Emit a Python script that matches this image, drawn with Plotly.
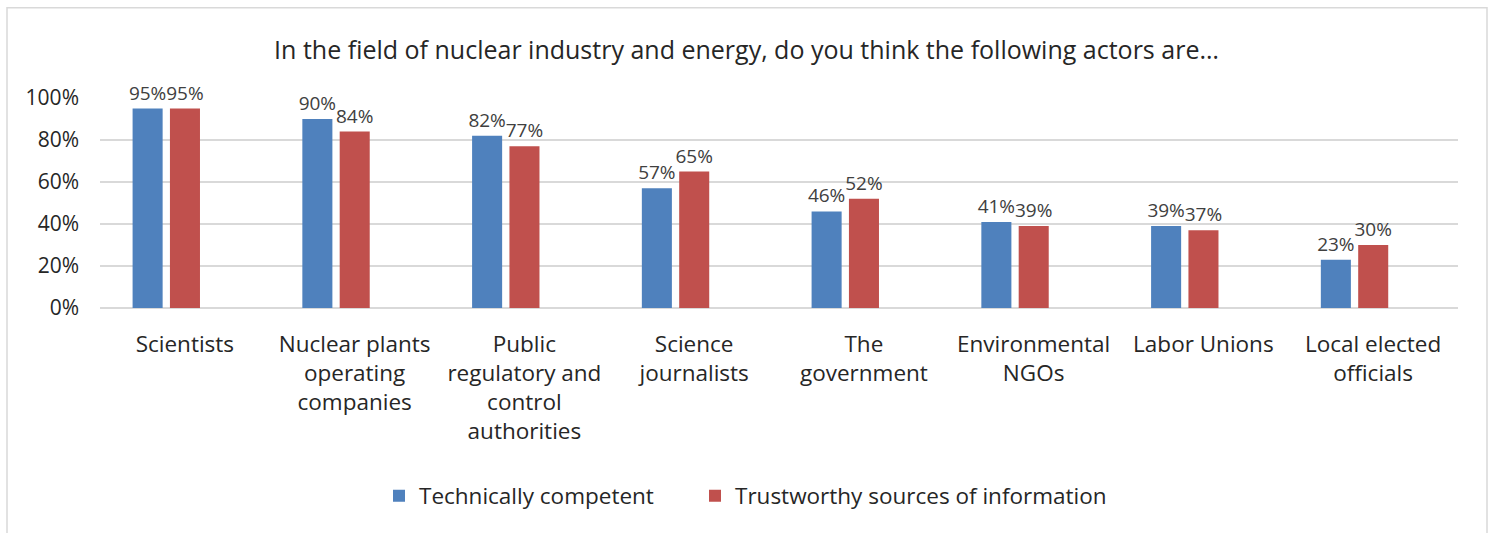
import plotly.graph_objects as go

categories = [
    "Scientists",
    "Nuclear plants<br>operating<br>companies",
    "Public<br>regulatory and<br>control<br>authorities",
    "Science<br>journalists",
    "The<br>government",
    "Environmental<br>NGOs",
    "Labor Unions",
    "Local elected<br>officials",
]
technically_competent = [0.95, 0.90, 0.82, 0.57, 0.46, 0.41, 0.39, 0.23]
trustworthy_sources = [0.95, 0.84, 0.77, 0.65, 0.52, 0.39, 0.37, 0.30]
series_names = ["Technically competent", "Trustworthy sources of information"]
title_text = "In the field of nuclear industry and energy, do you think the following actors are…"
y_ticks = [0, 0.2, 0.4, 0.6, 0.8, 1.0]
y_ticklabels = ["0%", "20%", "40%", "60%", "80%", "100%"]

FONT = "Open Sans"
TEXT = "#404040"
DARK = "#262626"
BLUE = "#4F81BD"
RED = "#C0504D"
GRID = "#D9D9D9"

W, H = 1493, 533
ML, MR, MT, MB = 100, 35, 97.5, 225
pw = W - ML - MR
ph = H - MT - MB

bar_w = 0.177
fig = go.Figure()
for vals, name, color, off, lg in [
    (technically_competent, series_names[0], BLUE, -0.308, "legend"),
    (trustworthy_sources, series_names[1], RED, -0.088, "legend2"),
]:
    fig.add_trace(go.Bar(
        x=list(range(len(categories))), y=vals, name=name,
        marker=dict(color=color, line=dict(width=0)),
        width=bar_w, offset=off, legend=lg,
        text=[f"{round(v*100)}%" for v in vals],
        textposition="outside", cliponaxis=False, constraintext="none",
        textfont=dict(family=FONT, size=19, color=TEXT),
    ))

# chart border
fig.add_shape(type="rect", xref="paper", yref="paper",
              x0=(7 - ML) / pw, x1=(1487 - ML) / pw,
              y0=-(H + 10 - (H - MB)) / ph, y1=((H - MB) - 7) / ph,
              line=dict(color=GRID, width=1.5), fillcolor="rgba(0,0,0,0)", layer="below")

legend_style = dict(orientation="h", xref="container", xanchor="left",
                    yref="container", y=1 - 496 / H, yanchor="middle",
                    font=dict(family=FONT, size=22.5, color=DARK), itemwidth=30)

fig.update_layout(
    width=W, height=H,
    margin=dict(l=ML, r=MR, t=MT, b=MB, autoexpand=False),
    paper_bgcolor="white", plot_bgcolor="white",
    font=dict(family=FONT, color=TEXT),
    title=dict(text=title_text, x=0.5, xref="container", xanchor="center",
               y=1 - 50 / H, yref="container", yanchor="middle",
               font=dict(family=FONT, size=25, color=DARK)),
    barmode="group",
    showlegend=True,
    legend=dict(x=(393 - 14) / W, **legend_style),
    legend2=dict(x=(709 - 14) / W, **legend_style),
    xaxis=dict(tickmode="array", tickvals=list(range(len(categories))), ticktext=categories,
               range=[-0.5, len(categories) - 0.5], showgrid=False, zeroline=False,
               showline=False, ticks="", ticklabelstandoff=20,
               tickfont=dict(family=FONT, size=22.5, color=DARK)),
    yaxis=dict(range=[0, 1], tickmode="array", tickvals=y_ticks, ticktext=y_ticklabels,
               showgrid=True, gridcolor=GRID, gridwidth=1.5, zeroline=True,
               zerolinecolor=GRID, zerolinewidth=1.5, showline=False, ticks="",
               ticklabelstandoff=20, tickfont=dict(family=FONT, size=21, color=DARK)),
)
fig.write_html("out.html", config={"displayModeBar": False},
               post_script="document.body.style.margin='0';")
